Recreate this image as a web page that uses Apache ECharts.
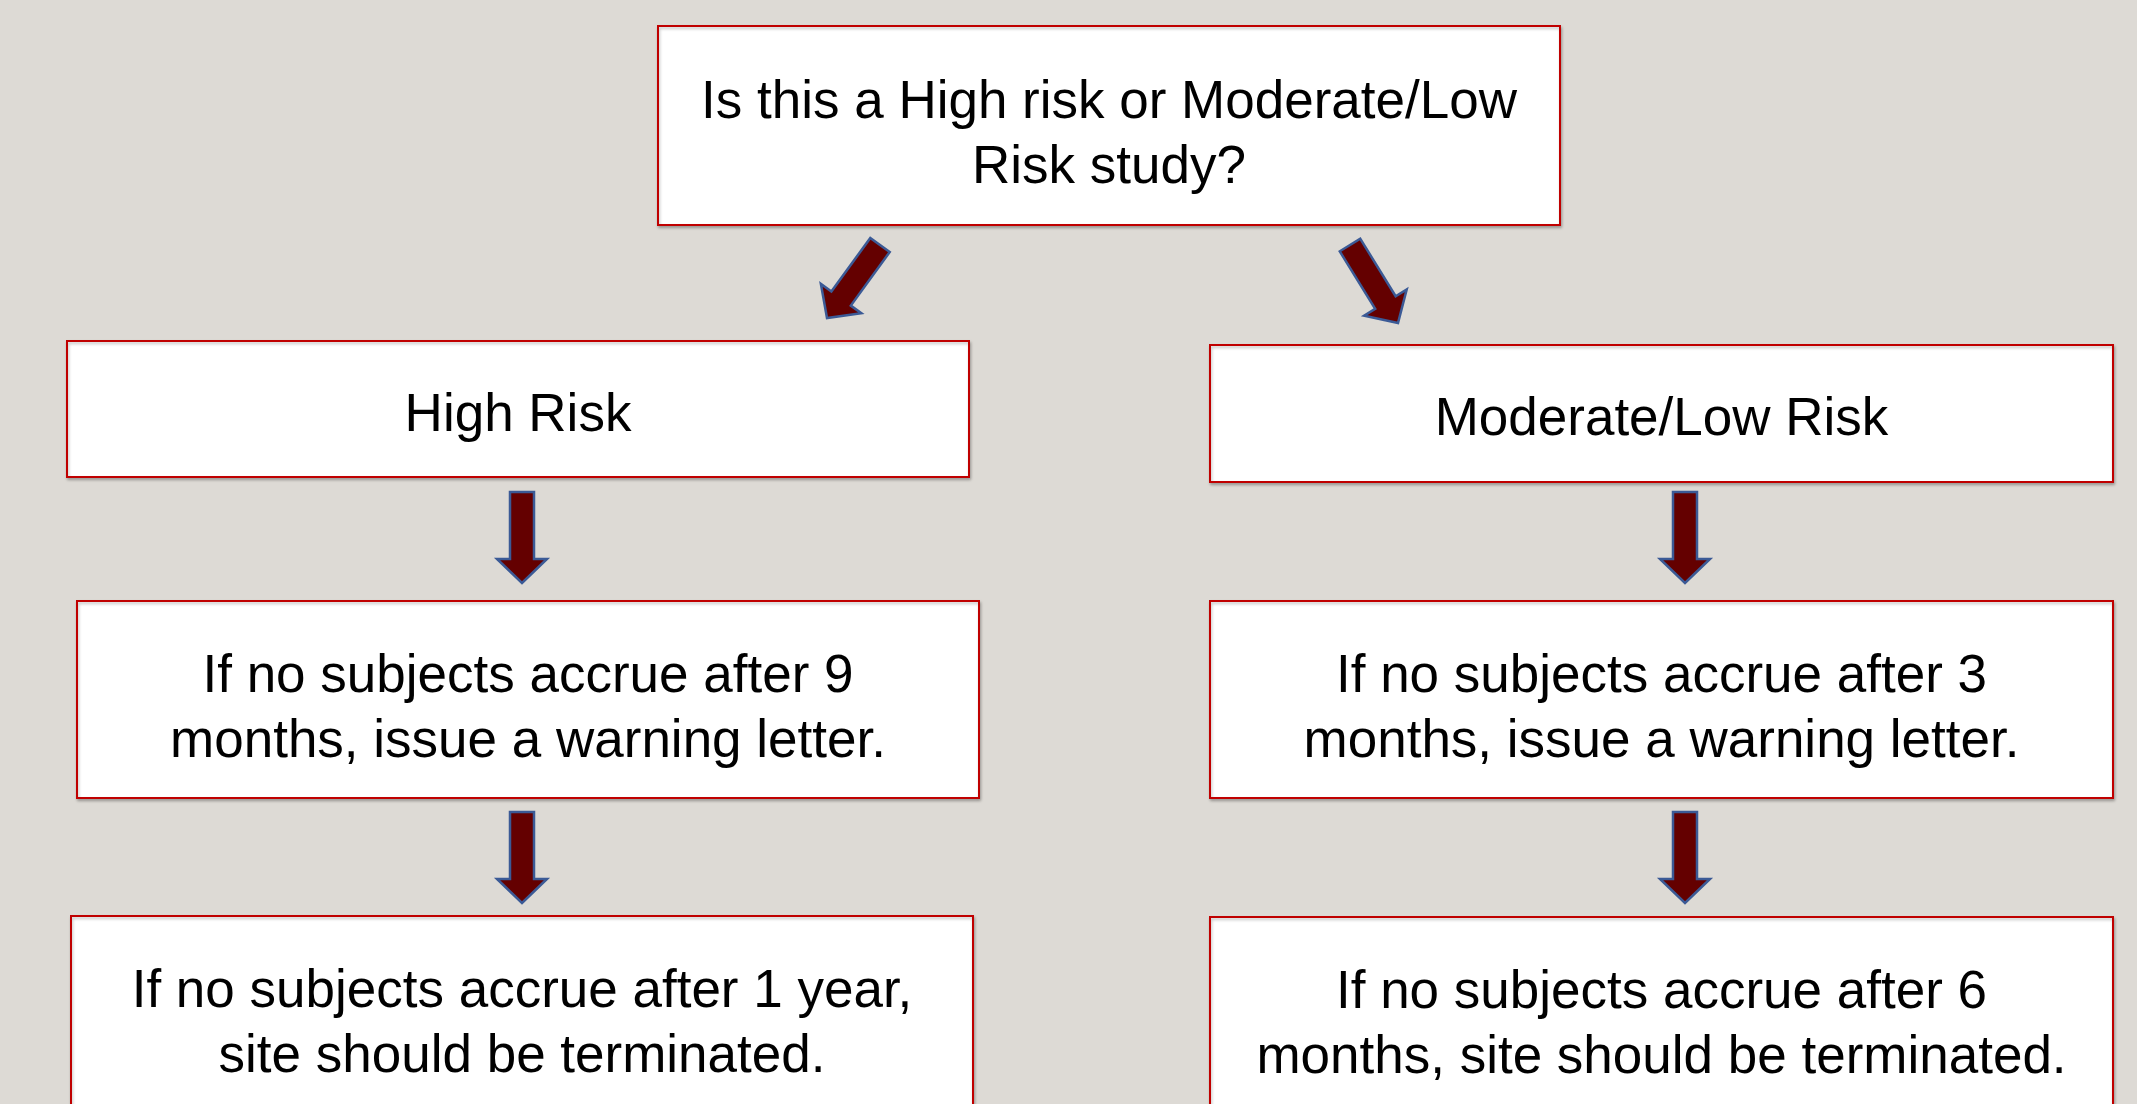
<!DOCTYPE html>
<html><head><meta charset="utf-8">
<script src="https://cdn.jsdelivr.net/npm/echarts@6/dist/echarts.min.js"></script>
<style>html,body{margin:0;padding:0;background:#dddad5;overflow:hidden}#c{width:2137px;height:1104px;}</style>
</head><body><div id="c"></div>
<script>
// Flowchart content
const nodeTexts = [
  'Is this a High risk or Moderate/Low\nRisk study?',
  'High Risk',
  'Moderate/Low Risk',
  'If no subjects accrue after 9\nmonths, issue a warning letter.',
  'If no subjects accrue after 3\nmonths, issue a warning letter.',
  'If no subjects accrue after 1 year,\nsite should be terminated.',
  'If no subjects accrue after 6\nmonths, site should be terminated.'
];
// node rectangles in diagram units [x0, y0, x1, y1]
const nodeBoxes = [
  [658, 26, 1560, 225],
  [67, 341, 969, 477],
  [1210, 345, 2113, 482],
  [77, 601, 979, 798],
  [1210, 601, 2113, 798],
  [71, 916, 973, 1114],
  [1210, 917, 2113, 1115]
];
// links (from node, to node)
const links = [[0, 1], [0, 2], [1, 3], [2, 4], [3, 5], [4, 6]];
const arrowTails = [[880, 245], [1350, 245], [522, 492], [1685, 492], [522, 812], [1685, 812]];
const arrowTips  = [[827, 318], [1398, 323], [522, 583], [1685, 583], [522, 903], [1685, 903]];

const chart = echarts.init(document.getElementById('c'), null, {renderer: 'canvas'});

const boxData = nodeBoxes.map((b, i) => [b[0], b[1], b[2], b[3], i]);
const arrowData = links.map((l, k) => [arrowTails[k][0], arrowTails[k][1], arrowTips[k][0], arrowTips[k][1]]);

chart.setOption({
  backgroundColor: '#dddad5',
  animation: false,
  grid: {left: 0, right: 0, top: 0, bottom: 0},
  xAxis: {type: 'value', min: 0, max: 2137, show: false},
  yAxis: {type: 'value', min: 0, max: 1104, inverse: true, show: false},
  series: [
    {
      type: 'custom',
      coordinateSystem: 'cartesian2d',
      data: arrowData,
      clip: false,
      renderItem: function (params, api) {
        const t = api.coord([api.value(0), api.value(1)]);
        const h = api.coord([api.value(2), api.value(3)]);
        const dx = h[0] - t[0], dy = h[1] - t[1];
        const len = Math.sqrt(dx * dx + dy * dy);
        const ux = dx / len, uy = dy / len;
        const nx = -uy, ny = ux;
        const sw = 12, hw = 25, hl = 24;
        const bx = h[0] - ux * hl, by = h[1] - uy * hl;
        const pts = [
          [t[0] + nx * sw, t[1] + ny * sw],
          [bx + nx * sw, by + ny * sw],
          [bx + nx * hw, by + ny * hw],
          [h[0], h[1]],
          [bx - nx * hw, by - ny * hw],
          [bx - nx * sw, by - ny * sw],
          [t[0] - nx * sw, t[1] - ny * sw]
        ];
        return {
          type: 'polygon',
          shape: {points: pts},
          style: {fill: '#640000', stroke: '#3b5a96', lineWidth: 2.5, lineJoin: 'miter'}
        };
      }
    },
    {
      type: 'custom',
      coordinateSystem: 'cartesian2d',
      data: boxData,
      clip: false,
      renderItem: function (params, api) {
        const i = api.value(4);
        const p0 = api.coord([api.value(0), api.value(1)]);
        const p1 = api.coord([api.value(2), api.value(3)]);
        const txt = nodeTexts[i];
        const off = txt.indexOf('\n') >= 0 ? 10 : 7;
        return {
          type: 'group',
          children: [
            {
              type: 'rect',
              shape: {x: p0[0], y: p0[1], width: p1[0] - p0[0], height: p1[1] - p0[1]},
              style: {fill: '#ffffff', stroke: '#c00000', lineWidth: 2,
                shadowBlur: 3, shadowColor: 'rgba(0,0,0,0.25)', shadowOffsetX: 1, shadowOffsetY: 2}
            },
            {
              type: 'text',
              x: (p0[0] + p1[0]) / 2,
              y: (p0[1] + p1[1]) / 2 + off,
              style: {
                text: txt,
                fontSize: 53,
                fontFamily: '"Liberation Sans", Arial, sans-serif',
                fill: '#000000',
                align: 'center',
                verticalAlign: 'middle',
                lineHeight: 65
              }
            }
          ]
        };
      }
    }
  ]
});
</script>
</body></html>
